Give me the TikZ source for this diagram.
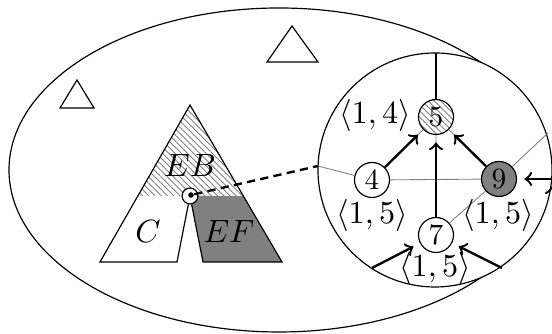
\documentclass[tikz,border=0pt]{standalone}
\usepackage{amsmath}
\usepackage{amssymb}
\usetikzlibrary{patterns.meta}

\begin{document}
\begin{tikzpicture}[x=0.34pt,y=-0.34pt,
	every node/.append style={font=\fontsize{11}{13}\selectfont},
	hatch/.style={pattern={Lines[angle=-45,distance=1.5pt,line width=0.3pt]},pattern color=gray},
	mesh/.style={gray,line width=0.3pt}]
	\useasboundingbox (0,0) rectangle (552,334);
	\draw (279,170) ellipse [x radius=270,y radius=162];
	\draw [fill=white] (435,170) circle [radius=117];
	\draw (292,26) -- (267,62) -- (318,62) -- cycle;
	\draw (77,80) -- (60,108) -- (94,108) -- cycle;
	\fill [hatch] (190,105) -- (137.8,196) -- (243.3,196) -- cycle;
	\fill [gray] (190,196) -- (243.3,196) -- (282,262) -- (203,262) -- cycle;
	\node (cut) [circle,draw,fill=white,inner sep=0pt,minimum size=5.4pt] at (190,196) {};
	\draw (cut) -- (177,262) -- (100,262) -- (190,105) -- (282,262) -- (203,262) -- (cut);
	\node (pt) [circle,fill,inner sep=0pt,minimum size=1.9pt] at (191,195) {};
	\node (eb) at (190,166) {$EB$};
	\node (c) at (148,232) {$C$};
	\node (ef) at (229,232) {$EF$};
	\begin{scope}[every node/.style={circle,draw,inner sep=0pt,minimum size=11.9pt}]
	\node [hatch] (n5) at (436,117) {5};
	\node [fill=white] (n4) at (372,180) {4};
	\node [fill=gray] (n9) at (499,179) {9};
	\node [fill=white] (n7) at (436,235) {7};
	\end{scope}
	\coordinate (top) at (436,53);
	\coordinate (wl) at (318,166);
	\coordinate (wr) at (548,133);
	\coordinate (bl) at (372,268);
	\coordinate (br) at (502,268);
	\coordinate (er) at (552,179);
	\draw [mesh] (wl) -- (n4) -- (n9);
	\draw [mesh] (n7) -- (n9) -- (wr);
	\draw [mesh] (n4) -- (n5) (n7) -- (n5) (n9) -- (n5);
	\draw [thick,->,shorten >=2.5pt] (n4) edge (n5) (n7) edge (n5) (n9) edge (n5);
	\draw [thick,->,shorten >=2.5pt] (bl) edge (n7) (br) edge (n7) (er) edge (n9);
	\draw [thick] (n5) -- (top);
	\draw [thick,dash pattern=on 2.8pt off 1.8pt] (pt) -- (wl);
	\node (t5) at (375,115) {$\langle 1,4\rangle$};
	\node (t4) at (372,215) {$\langle 1,5\rangle$};
	\node (t9) at (498,215) {$\langle 1,5\rangle$};
	\node (t7) at (435,268) {$\langle 1,5\rangle$};
\end{tikzpicture}
\end{document}
